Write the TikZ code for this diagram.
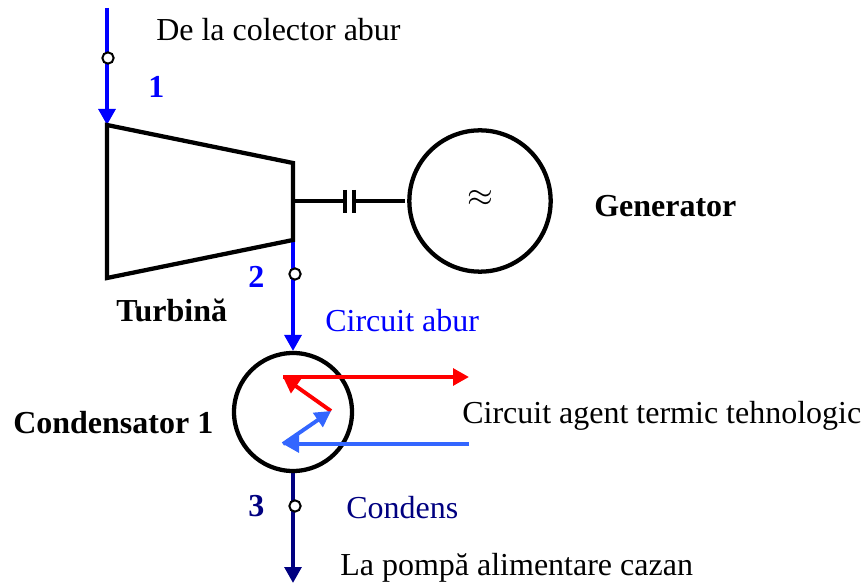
\documentclass[tikz,border=0pt]{standalone}
\usepackage{fontspec}
\setmainfont{Liberation Serif}
\usetikzlibrary{arrows.meta}
\definecolor{steam}{RGB}{0,0,255}
\definecolor{cond}{RGB}{0,0,128}
\definecolor{hotline}{RGB}{255,0,0}
\definecolor{coldline}{RGB}{51,102,255}
\tikzset{
  x=0.75pt,y=-0.75pt,
  outline/.style={draw=black,line width=3.2pt,line join=miter},
  thin shaft/.style={draw=black,line width=2.8pt},
  flow/.style={line width=2.9pt,-{Triangle[length=12pt,width=12.5pt]}},
  tap/.style={circle,draw=black,fill=white,line width=1.5pt,minimum size=8.5pt,inner sep=0pt},
  lbl/.style={font=\fontsize{24}{26}\selectfont,anchor=base west,inner sep=0pt},
  blbl/.style={font=\fontsize{24}{26}\selectfont\bfseries,anchor=base west,inner sep=0pt},
}
\begin{document}
\begin{tikzpicture}
\useasboundingbox (0,0) rectangle (864,584);
% named points
\coordinate (t1) at (107,125);
\coordinate (t2) at (293,163);
\coordinate (t3) at (293,240);
\coordinate (t4) at (107,278);
\coordinate (shaft) at (293,201);
\coordinate (in) at (107,8);
\coordinate (condtop) at (293,351);
\coordinate (condbot) at (293,473);
\coordinate (out) at (293,583);
\coordinate (hA) at (283,377);
\coordinate (hB) at (469,377);
\coordinate (mid) at (331,411);
\coordinate (cA) at (283,444);
\coordinate (cB) at (469,444);
\coordinate (plA) at (345,201);
\coordinate (plB) at (354,201);
% steam and condensate lines
\draw[flow,steam] (in) -- (t1);
\draw[flow,steam] (t3) -- (condtop);
\draw[flow,cond] (condbot) -- (out);
% turbine
\draw[outline] (t1) -- (t2) -- (t3) -- (t4) -- cycle;
% machines
\node[circle,draw=black,outline,minimum size=106pt,inner sep=0pt] (gen) at (480,201) {};
\node[circle,draw=black,outline,minimum size=88.5pt,inner sep=0pt] (cnd) at (293,412) {};
\node[font=\fontsize{30}{32}\selectfont,inner sep=0pt] (approx) at (480,198) {$\approx$};
% coupling
\draw[thin shaft] (shaft) -- (plA);
\draw[thin shaft] (plB) -- ([xshift=-1.5pt]gen.west);
\draw[thin shaft] (345,190) coordinate (p1) -- (345,213) coordinate (p2);
\draw[thin shaft] (354,190) coordinate (p3) -- (354,213) coordinate (p4);
% heat circuit
\draw[flow,hotline] (hA) -- (hB);
\draw[flow,hotline] (mid) -- (hA);
\draw[flow,coldline] (cB) -- (cA);
\draw[flow,coldline] (cA) -- (mid);
% tap points
\node[tap] (tap1) at (108,58) {};
\node[tap] (tap2) at (295,274) {};
\node[tap] (tap3) at (295,506) {};
% labels
\node[lbl] (a) at (156,41) {De la colector abur};
\node[blbl,text=steam] (n1) at (148,98) {1};
\node[blbl] (b) at (594,217) {Generator};
\node[blbl,text=steam] (n2) at (248,288) {2};
\node[blbl] (c) at (116,322) {Turbină};
\node[lbl,text=steam] (d) at (325,332) {Circuit abur};
\node[blbl] (e) at (13,434) {Condensator 1};
\node[lbl] (f) at (462,424) {Circuit agent termic tehnologic};
\node[blbl,text=cond] (n3) at (248,516) {3};
\node[lbl,text=cond] (g) at (346,518) {Condens};
\node[lbl] (h) at (340,575) {La pompă alimentare cazan};
\end{tikzpicture}
\end{document}
